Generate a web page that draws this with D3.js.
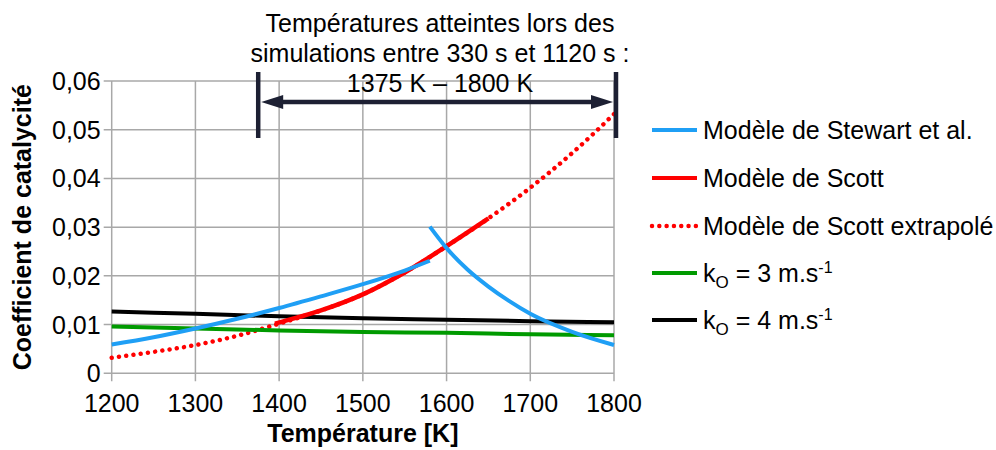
<!DOCTYPE html>
<html>
<head>
<meta charset="utf-8">
<script src="https://cdn.jsdelivr.net/npm/d3@7"></script>
<style>
  html, body { margin: 0; padding: 0; background: #fff; }
  svg { display: block; font-family: "Liberation Sans", Arial, sans-serif; }
</style>
</head>
<body>
<svg id="chart" width="996" height="450"></svg>
<script>
// ---- data ----
const xTicks = [1200, 1300, 1400, 1500, 1600, 1700, 1800];
const yTicks = [0, 0.01, 0.02, 0.03, 0.04, 0.05, 0.06];
const yTickLabels = ["0", "0,01", "0,02", "0,03", "0,04", "0,05", "0,06"];

const stewartLowT = [1200, 1250, 1300, 1350, 1400, 1450, 1500, 1550, 1580];
const stewartLowV = [0.0059, 0.0074, 0.0092, 0.0112, 0.0134, 0.0158, 0.0183, 0.0211, 0.0231];
const stewartHighT = [1580, 1600, 1625, 1650, 1675, 1700, 1750, 1800];
const stewartHighV = [0.0301, 0.0257, 0.0213, 0.0178, 0.0148, 0.0122, 0.0085, 0.0058];

const scottT = [1395, 1450, 1500, 1550, 1600, 1650];
const scottV = [0.0102, 0.0129, 0.0162, 0.0207, 0.0261, 0.0318];

const scottExtT = [1200, 1250, 1300, 1350, 1400, 1450, 1500, 1550, 1600, 1650, 1700, 1750, 1800];
const scottExtV = [0.0032, 0.0044, 0.0058, 0.0077, 0.0102, 0.0129, 0.0162, 0.0207, 0.0261, 0.0318, 0.0381, 0.0452, 0.0532];

const kT = [1200, 1300, 1400, 1500, 1600, 1700, 1800];
const k3V = [0.0096, 0.0092, 0.0088, 0.0085, 0.0083, 0.0080, 0.0078];
const k4V = [0.0127, 0.0122, 0.0117, 0.0113, 0.0110, 0.0107, 0.0105];

const rangeT = [1375, 1800];
const titleLines = ["Températures atteintes lors des", "simulations entre 330 s et 1120 s :", "1375 K – 1800 K"];
const xTitle = "Température [K]";
const yTitle = "Coefficient de catalycité";

// ---- layout ----
const svg = d3.select("#chart");
const L = 111.7, R = 614, T = 81, B = 373.3;
const FS = 25;
const x = d3.scaleLinear().domain([1200, 1800]).range([L, R]);
const y = d3.scaleLinear().domain([0, 0.06]).range([B, T]);
const gridColor = "#a8a8a8";
const blue = "#1f9ff5", red = "#ff0000", green = "#009a00", black = "#000000", navy = "#1d2033";

// grid
const g = svg.append("g");
g.selectAll("line.hg").data(yTicks).join("line")
  .attr("x1", L - 8).attr("x2", R).attr("y1", d => y(d)).attr("y2", d => y(d))
  .attr("stroke", gridColor).attr("stroke-width", 1.5);
g.selectAll("line.vg").data(xTicks).join("line")
  .attr("x1", d => x(d)).attr("x2", d => x(d)).attr("y1", T).attr("y2", B + 8)
  .attr("stroke", gridColor).attr("stroke-width", 1.5);

// tick labels
g.selectAll("text.yl").data(yTicks).join("text")
  .attr("x", L - 11).attr("y", d => y(d) + 9)
  .attr("text-anchor", "end").attr("font-size", FS).attr("fill", "#000")
  .text((d, i) => yTickLabels[i]);
g.selectAll("text.xl").data(xTicks).join("text")
  .attr("x", d => x(d)).attr("y", 412)
  .attr("text-anchor", "middle").attr("font-size", FS).attr("fill", "#000")
  .text(d => d);

// axis titles
svg.append("text").attr("x", (L + R) / 2).attr("y", 442)
  .attr("text-anchor", "middle").attr("font-size", FS).attr("font-weight", "bold")
  .text(xTitle);
svg.append("text").attr("transform", `translate(31,${(T + B) / 2}) rotate(-90)`)
  .attr("text-anchor", "middle").attr("font-size", FS).attr("font-weight", "bold")
  .text(yTitle);

// lines
const line = (ts, vs) => d3.line().curve(d3.curveMonotoneX)
  .x((d, i) => x(ts[i])).y((d, i) => y(vs[i]))(vs);

svg.append("path").attr("d", line(scottExtT, scottExtV))
  .attr("fill", "none").attr("stroke", red).attr("stroke-width", 4.5)
  .attr("stroke-linecap", "round").attr("stroke-dasharray", "0.01 7.3");
svg.append("path").attr("d", line(kT, k3V))
  .attr("fill", "none").attr("stroke", green).attr("stroke-width", 4);
svg.append("path").attr("d", line(kT, k4V))
  .attr("fill", "none").attr("stroke", black).attr("stroke-width", 4);
svg.append("path").attr("d", line(scottT, scottV))
  .attr("fill", "none").attr("stroke", red).attr("stroke-width", 4.5);
svg.append("path").attr("d", line(stewartLowT, stewartLowV))
  .attr("fill", "none").attr("stroke", blue).attr("stroke-width", 4);
svg.append("path").attr("d", line(stewartHighT, stewartHighV))
  .attr("fill", "none").attr("stroke", blue).attr("stroke-width", 4);

// annotation
const ann = svg.append("g");
rangeT.forEach(t => {
  const xx = x(t) + (t === 1800 ? 2 : 0);
  ann.append("line").attr("x1", xx).attr("x2", xx)
    .attr("y1", 72).attr("y2", 138).attr("stroke", navy).attr("stroke-width", 4.5);
});
const ax1 = x(rangeT[0]) + 3, ax2 = x(rangeT[1]) - 1, ay = 102;
ann.append("line").attr("x1", ax1 + 16).attr("x2", ax2 - 16).attr("y1", ay).attr("y2", ay)
  .attr("stroke", navy).attr("stroke-width", 4.5);
ann.append("path").attr("d", `M${ax1},${ay} L${ax1 + 22},${ay - 7} L${ax1 + 22},${ay + 7} Z`).attr("fill", navy);
ann.append("path").attr("d", `M${ax2},${ay} L${ax2 - 22},${ay - 7} L${ax2 - 22},${ay + 7} Z`).attr("fill", navy);
titleLines.forEach((s, i) => {
  svg.append("text").attr("x", 440).attr("y", 31.5 + i * 30)
    .attr("text-anchor", "middle").attr("font-size", FS).attr("fill", "#000").text(s);
});

// legend
const legY = [130, 178, 226, 273, 320];
const leg = svg.append("g");
const legItems = [
  {c: blue, dash: null, t: "Modèle de Stewart et al."},
  {c: red, dash: null, t: "Modèle de Scott"},
  {c: red, dash: "0.01 7.3", t: "Modèle de Scott extrapolé"},
  {c: green, dash: null, k: "3"},
  {c: black, dash: null, k: "4"}
];
legItems.forEach((it, i) => {
  const ly = legY[i];
  const ln = leg.append("line").attr("x1", 652).attr("x2", 697).attr("y1", ly).attr("y2", ly)
    .attr("stroke", it.c).attr("stroke-width", it.dash ? 4.5 : 4);
  if (it.dash) ln.attr("stroke-dasharray", it.dash).attr("stroke-linecap", "round");
  const tx = leg.append("text").attr("x", 703).attr("y", ly + 9).attr("font-size", FS).attr("fill", "#000");
  if (it.t) tx.text(it.t);
  else {
    tx.append("tspan").text("k");
    tx.append("tspan").attr("font-size", 17).attr("dy", 6).text("O");
    tx.append("tspan").attr("dy", -6).text(" = " + it.k + " m.s");
    tx.append("tspan").attr("font-size", 16).attr("dy", -9).text("-1");
  }
});
</script>
</body>
</html>
